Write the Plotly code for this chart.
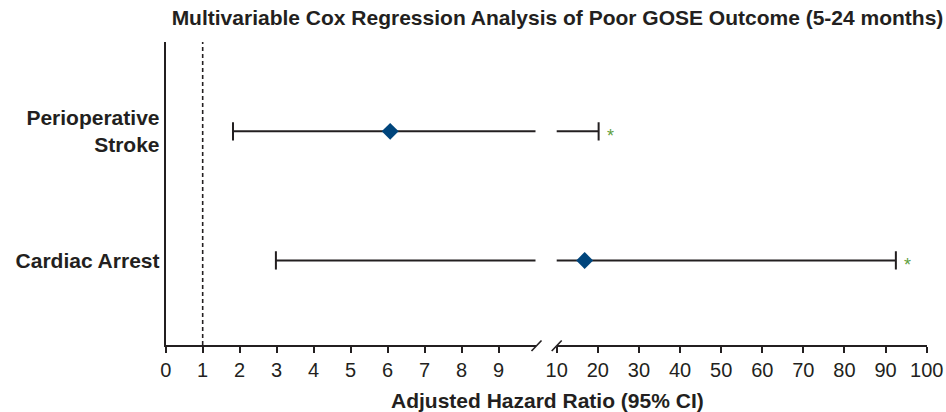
import plotly.graph_objects as go

# ---- data ----
categories = ["Perioperative Stroke", "Cardiac Arrest"]
category_labels = ["Perioperative<br>Stroke", "Cardiac Arrest"]
row_pos = [1, 0]
hr = [6.07, 16.8]
ci_low = [1.82, 2.98]
ci_high = [20.2, 92.5]
significance = ["*", "*"]
left_ticks = [0, 1, 2, 3, 4, 5, 6, 7, 8, 9]
right_ticks = [20, 30, 40, 50, 60, 70, 80, 90, 100]
ref_line = 1
axis_break = 10

# ---- style ----
W, H = 946, 412
INK = "#231f20"
BLUE = "#00457c"
GREEN = "#5fa040"
FONT = "Liberation Sans, Arial, sans-serif"

x1_dom = [165.7 / W, 535.5 / W]
x2_dom = [556.7 / W, 926.7 / W]

fig = go.Figure()

for xa in ["x", "x2"]:
    for i in range(len(categories)):
        fig.add_trace(go.Scatter(
            x=[ci_low[i], ci_high[i]], y=[row_pos[i], row_pos[i]],
            mode="lines", line=dict(color=INK, width=2),
            xaxis=xa, yaxis="y", showlegend=False, hoverinfo="skip"))
        fig.add_trace(go.Scatter(
            x=[ci_low[i], ci_high[i]], y=[row_pos[i], row_pos[i]],
            mode="markers",
            marker=dict(symbol="line-ns", size=13, line=dict(color=INK, width=2)),
            xaxis=xa, yaxis="y", showlegend=False, hoverinfo="skip"))
        fig.add_trace(go.Scatter(
            x=[hr[i]], y=[row_pos[i]], mode="markers",
            marker=dict(symbol="diamond", size=13, color=BLUE),
            xaxis=xa, yaxis="y", showlegend=False,
            name=categories[i]))

annotations = []
for i in range(len(categories)):
    xa = "x" if ci_high[i] <= axis_break else "x2"
    annotations.append(dict(
        text=significance[i], x=ci_high[i], y=row_pos[i], xref=xa, yref="y",
        xanchor="center", yanchor="middle", xshift=12, yshift=-5,
        showarrow=False, font=dict(family=FONT, size=18, color=GREEN)))

annotations.append(dict(
    text="Adjusted Hazard Ratio (95% CI)", xref="paper", yref="paper",
    x=547 / W, y=(345 - 400) / 303, xanchor="center", yanchor="middle",
    showarrow=False, font=dict(family=FONT, size=21, color=INK, weight="bold")))

# reference line at HR = 1
fig.add_shape(type="line", xref="x", yref="paper", x0=ref_line, x1=ref_line,
              y0=0, y1=1, line=dict(color=INK, width=1.6, dash="4px,3px"))

# axis break marks (decoration at the ends of the two axis segments)
fig.add_shape(type="line", xref="paper", yref="paper", xsizemode="pixel",
              ysizemode="pixel", xanchor=x1_dom[1], yanchor=0,
              x0=-4, x1=6, y0=-6, y1=4.5, line=dict(color=INK, width=1.6))
fig.add_shape(type="line", xref="paper", yref="paper", xsizemode="pixel",
              ysizemode="pixel", xanchor=x2_dom[0], yanchor=0,
              x0=-5, x1=5, y0=-6, y1=4.5, line=dict(color=INK, width=1.6))

axis_common = dict(showline=True, linecolor=INK, linewidth=2,
                   ticks="outside", ticklen=6, tickwidth=2, tickcolor=INK,
                   showgrid=False, zeroline=False, automargin=False,
                   tickfont=dict(family=FONT, size=20, color=INK))

fig.update_layout(
    template="none",
    width=W, height=H,
    margin=dict(l=0, r=0, t=42, b=67, autoexpand=False),
    paper_bgcolor="white", plot_bgcolor="white",
    font=dict(family=FONT, color=INK),
    title=dict(text="Multivariable Cox Regression Analysis of Poor GOSE Outcome (5-24 months)",
               x=557.5 / W, xanchor="center", y=1 - 18 / H, yanchor="middle",
               font=dict(family=FONT, size=21, color=INK, weight="bold")),
    xaxis=dict(domain=x1_dom, range=[0, axis_break], tickvals=left_ticks,
               anchor="y", **axis_common),
    xaxis2=dict(domain=x2_dom, range=[axis_break, 100], tickvals=[axis_break] + right_ticks,
                anchor="y", **axis_common),
    yaxis=dict(range=[-0.655, 1.692], tickvals=row_pos, ticktext=category_labels,
               showline=True, linecolor=INK, linewidth=2, ticks="",
               showgrid=False, zeroline=False, anchor="x", automargin=False,
               tickfont=dict(family=FONT, size=21, color=INK, weight="bold")),
    annotations=annotations,
)

fig.write_html("out.html", config={"displayModeBar": False},
               post_script="document.body.style.margin='0';document.body.style.overflow='hidden';")
